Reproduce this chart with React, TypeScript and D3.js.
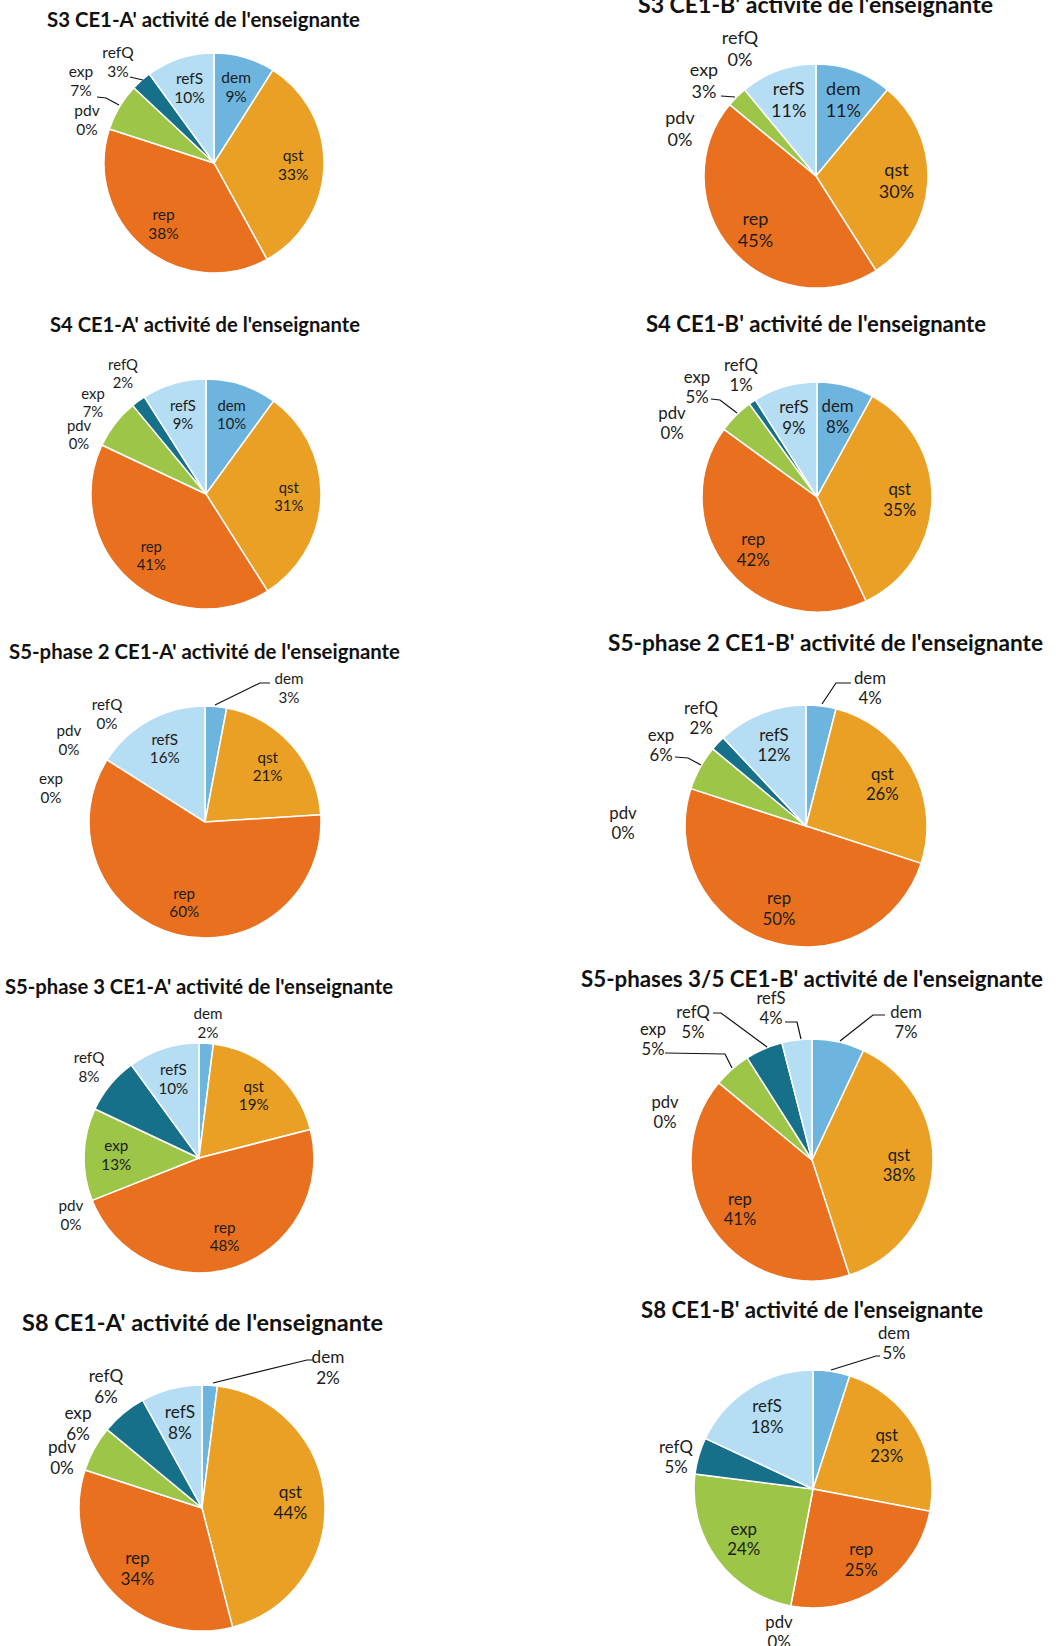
import React from 'react';
import * as d3 from 'd3';

const categories = ['dem', 'qst', 'rep', 'pdv', 'exp', 'refQ', 'refS'];
const colors = ['#6db5df', '#e9a024', '#e9701f', '#a0a0a0', '#9dc547', '#17708a', '#b5ddf3'];

const titles = [
  "S3 CE1-A' activité de l'enseignante",
  "S3 CE1-B' activité de l'enseignante",
  "S4 CE1-A' activité de l'enseignante",
  "S4 CE1-B' activité de l'enseignante",
  "S5-phase 2 CE1-A' activité de l'enseignante",
  "S5-phase 2 CE1-B' activité de l'enseignante",
  "S5-phase 3 CE1-A' activité de l'enseignante",
  "S5-phases 3/5 CE1-B' activité de l'enseignante",
  "S8 CE1-A' activité de l'enseignante",
  "S8 CE1-B' activité de l'enseignante",
];

// values in order: dem, qst, rep, pdv, exp, refQ, refS (percent)
const s3A = [9, 33, 38, 0, 7, 3, 10];
const s3B = [11, 30, 45, 0, 3, 0, 11];
const s4A = [10, 31, 41, 0, 7, 2, 9];
const s4B = [8, 35, 42, 0, 5, 1, 9];
const s5p2A = [3, 21, 60, 0, 0, 0, 16];
const s5p2B = [4, 26, 50, 0, 6, 2, 12];
const s5p3A = [2, 19, 48, 0, 13, 8, 10];
const s5p35B = [7, 38, 41, 0, 5, 5, 4];
const s8A = [2, 44, 34, 0, 6, 6, 8];
const s8B = [5, 23, 25, 0, 24, 5, 18];

const series = [s3A, s3B, s4A, s4B, s5p2A, s5p2B, s5p3A, s5p35B, s8A, s8B];

type Pt = [number, number];
type OutLabel = { x: number; y: number; line?: Pt[] };
type Layout = {
  cx: number; cy: number; r: number; fs: number;
  title: { x: number; y: number; w: number };
  out: Record<string, OutLabel>;
};

const layouts: Layout[] = [
  { cx: 214, cy: 163, r: 110, fs: 15.5, title: { x: 47, y: 27, w: 313 }, out: {
    refQ: { x: 118, y: 53, line: [[130, 77], [143, 80]] },
    exp: { x: 81, y: 72, line: [[97, 97], [106, 98], [119, 105]] },
    pdv: { x: 87, y: 111 } } },
  { cx: 816, cy: 176, r: 112, fs: 18, title: { x: 638, y: 13, w: 355 }, out: {
    refQ: { x: 740, y: 38 },
    exp: { x: 704, y: 70, line: [[721, 96], [735, 97]] },
    pdv: { x: 680, y: 118 } } },
  { cx: 206, cy: 494, r: 115, fs: 14.8, title: { x: 50, y: 332, w: 310 }, out: {
    refQ: { x: 123, y: 365 },
    exp: { x: 93, y: 394 },
    pdv: { x: 79, y: 426 } } },
  { cx: 817, cy: 497, r: 115, fs: 16.8, title: { x: 646, y: 332, w: 340 }, out: {
    refQ: { x: 741, y: 365 },
    exp: { x: 697, y: 377, line: [[711, 399], [720, 400], [737, 413]] },
    pdv: { x: 672, y: 413 } } },
  { cx: 205, cy: 822, r: 116, fs: 15.2, title: { x: 9, y: 659, w: 391 }, out: {
    dem: { x: 289, y: 679, line: [[215, 705], [260, 683], [270, 683]] },
    refQ: { x: 107, y: 705 },
    pdv: { x: 69, y: 731 },
    exp: { x: 51, y: 779 } } },
  { cx: 806, cy: 826, r: 121, fs: 16.8, title: { x: 608, y: 651, w: 435 }, out: {
    dem: { x: 870, y: 678, line: [[822, 704], [836, 683], [851, 683]] },
    refQ: { x: 701, y: 708 },
    exp: { x: 661, y: 735, line: [[675, 757], [688, 758], [701, 765]] },
    pdv: { x: 623, y: 813 } } },
  { cx: 199, cy: 1158, r: 115, fs: 15.2, title: { x: 5, y: 994, w: 388 }, out: {
    dem: { x: 208, y: 1014 },
    refQ: { x: 89, y: 1058 },
    pdv: { x: 71, y: 1206 } } },
  { cx: 812, cy: 1160, r: 121, fs: 16.6, title: { x: 581, y: 987, w: 462 }, out: {
    refS: { x: 771, y: 998, line: [[785, 1022], [797, 1022], [801, 1039]] },
    dem: { x: 906, y: 1012, line: [[840, 1041], [873, 1015], [885, 1015]] },
    refQ: { x: 693, y: 1012, line: [[713, 1013], [721, 1013], [767, 1047]] },
    exp: { x: 653, y: 1029, line: [[665, 1053], [725, 1054], [732, 1068]] },
    pdv: { x: 665, y: 1102 } } },
  { cx: 202, cy: 1508, r: 123, fs: 17.2, title: { x: 22, y: 1331, w: 361 }, out: {
    dem: { x: 328, y: 1357, line: [[213, 1383], [307, 1360], [313, 1360]] },
    refQ: { x: 106, y: 1376 },
    exp: { x: 78, y: 1413 },
    pdv: { x: 62, y: 1447 } } },
  { cx: 813, cy: 1489, r: 119, fs: 16.8, title: { x: 641, y: 1318, w: 342 }, out: {
    dem: { x: 894, y: 1333, line: [[831, 1370], [876, 1356], [880, 1356]] },
    refQ: { x: 676, y: 1447 },
    pdv: { x: 779, y: 1622 } } },
];

const textColor = '#1c1c1c';

function Pie({ values, layout, title }: { values: number[]; layout: Layout; title: string }) {
  const { cx, cy, r, fs } = layout;
  const pie = d3.pie<number>().sort(null).value((d) => d)(values);
  const arc = d3.arc<d3.PieArcDatum<number>>().innerRadius(0).outerRadius(r);
  const labelArc = d3.arc<d3.PieArcDatum<number>>().innerRadius(r * 0.72).outerRadius(r * 0.72);
  const spacing = fs * 1.22;
  const titleFs = (layout.title.w / title.length) * 2.25;
  const line = d3.line();

  return (
    <g>
      <text
        x={layout.title.x}
        y={layout.title.y}
        fontFamily="Lato, 'Open Sans', sans-serif"
        fontWeight={700}
        fontSize={titleFs}
        fill="#111"
        textLength={layout.title.w}
        lengthAdjust="spacingAndGlyphs"
      >
        {title}
      </text>
      <g transform={`translate(${cx},${cy})`}>
        {pie.map((p, i) => (
          p.value > 0 ? (
            <path key={i} d={arc(p) || ''} fill={colors[i]} stroke="#ffffff" strokeWidth={1.5} />
          ) : null
        ))}
      </g>
      {pie.map((p, i) => {
        const cat = categories[i];
        const o = layout.out[cat];
        const pct = `${values[i]}%`;
        if (o) {
          return (
            <g key={`l${i}`}>
              {o.line ? (
                <path d={line(o.line) || ''} fill="none" stroke="#111" strokeWidth={1.2} />
              ) : null}
              <text x={o.x} y={o.y + fs * 0.35} textAnchor="middle" fontFamily="Lato, sans-serif" fontSize={fs} fill={textColor}>{cat}</text>
              <text x={o.x} y={o.y + spacing + fs * 0.35} textAnchor="middle" fontFamily="Lato, sans-serif" fontSize={fs} fill={textColor}>{pct}</text>
            </g>
          );
        }
        if (p.value <= 0) return null;
        const [lx, ly] = labelArc.centroid(p);
        return (
          <g key={`l${i}`}>
            <text x={cx + lx} y={cy + ly - spacing / 2 + fs * 0.35} textAnchor="middle" fontFamily="Lato, sans-serif" fontSize={fs} fill={textColor}>{cat}</text>
            <text x={cx + lx} y={cy + ly + spacing / 2 + fs * 0.35} textAnchor="middle" fontFamily="Lato, sans-serif" fontSize={fs} fill={textColor}>{pct}</text>
          </g>
        );
      })}
    </g>
  );
}

export default function App() {
  return (
    <svg
      width={1056}
      height={1646}
      style={{ position: 'absolute', left: 0, top: 0, background: '#ffffff' }}
    >
      <rect x={0} y={0} width={1056} height={1646} fill="#ffffff" />
      {series.map((vals, i) => (
        <Pie key={i} values={vals} layout={layouts[i]} title={titles[i]} />
      ))}
    </svg>
  );
}
